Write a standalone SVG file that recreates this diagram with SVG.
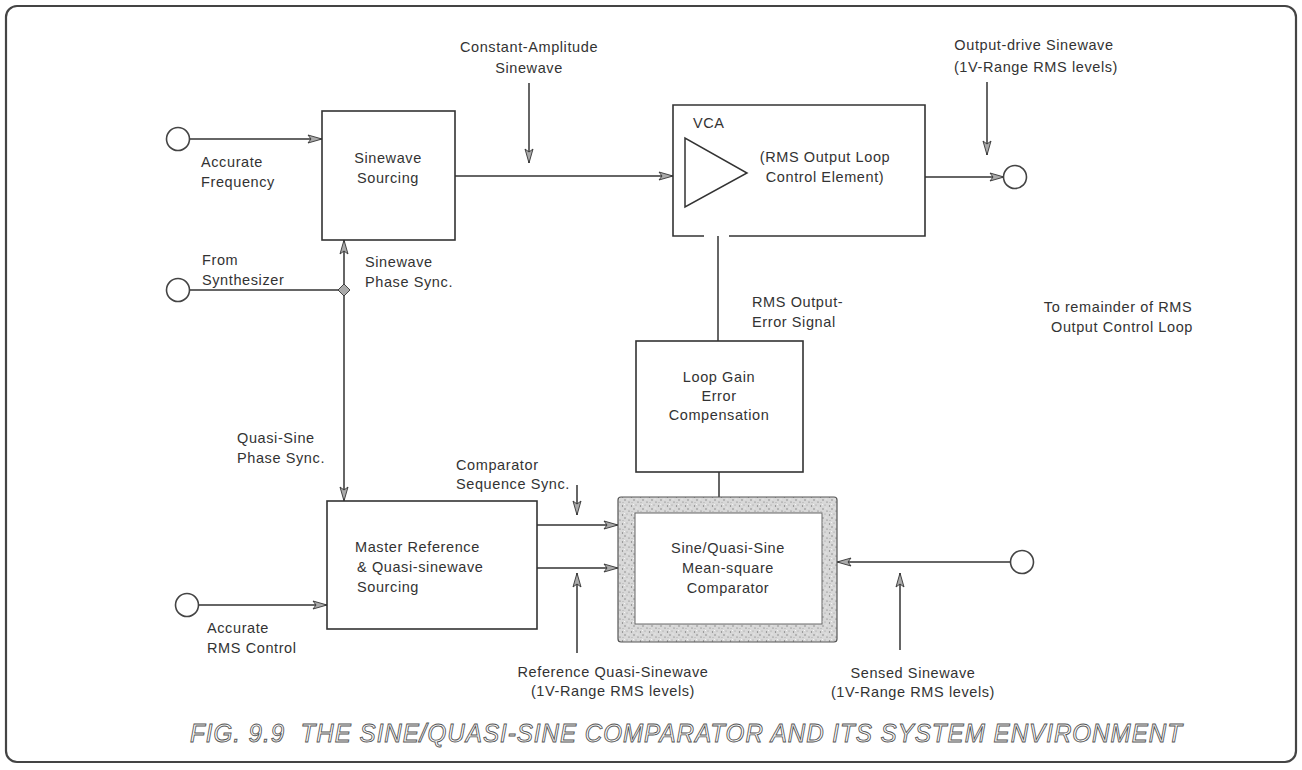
<svg xmlns="http://www.w3.org/2000/svg" width="1302" height="770" viewBox="0 0 1302 770">
<style>
.t{font-family:"Liberation Sans",Arial,sans-serif;font-size:14.5px;fill:#333;letter-spacing:0.6px}
.m{text-anchor:middle}
.box{fill:#fff;stroke:#333;stroke-width:1.6}
.ln{fill:none;stroke:#333;stroke-width:1.5}
.arr{marker-end:url(#ah)}
.term{fill:#fff;stroke:#444;stroke-width:1.6}
.cap{font-family:"Liberation Sans",Arial,sans-serif;font-size:25px;font-style:italic;fill:#fff;stroke:#555;stroke-width:0.9;letter-spacing:1px}
</style>
<defs>
<marker id="ah" markerUnits="userSpaceOnUse" markerWidth="16" markerHeight="10" refX="14" refY="4.5" orient="auto" overflow="visible">
<path d="M0,0.5 L14,4.5 L0,8.5 L3,4.5 Z" fill="#aaa" stroke="#333" stroke-width="0.9"/>
</marker>
<pattern id="speck" width="9" height="9" patternUnits="userSpaceOnUse">
<rect width="9" height="9" fill="#d8d8d8"/>
<circle cx="1.5" cy="2" r="0.7" fill="#777"/>
<circle cx="6" cy="1" r="0.6" fill="#999"/>
<circle cx="4" cy="5" r="0.8" fill="#888"/>
<circle cx="8" cy="7" r="0.6" fill="#666"/>
<circle cx="2" cy="7.5" r="0.6" fill="#aaa"/>
<circle cx="7" cy="4" r="0.6" fill="#f4f4f4"/>
<circle cx="3.5" cy="0.5" r="0.6" fill="#f4f4f4"/>
</pattern>
</defs>

<rect x="6" y="6" width="1290" height="756" rx="11" fill="none" stroke="#444" stroke-width="2.2"/>

<g id="connectors">
<path class="ln arr" d="M190,139 H322"/>
<path class="ln" d="M190,290 H344"/>
<path class="ln arr" d="M344,290 V240"/>
<path class="ln arr" d="M344,290 V501"/>
<path d="M344,284 L350,290 L344,296 L338,290 Z" fill="#aaa" stroke="#333" stroke-width="0.9"/>
<path class="ln arr" d="M455,176 H673"/>
<path class="ln arr" d="M529,83 V163"/>
<path class="ln arr" d="M925,177 H1004"/>
<path class="ln arr" d="M987,82 V155"/>
<path class="ln arr" d="M718,341 V190"/>
<path class="ln" d="M719,472 V497"/>
<path class="ln arr" d="M537,525 H618"/>
<path class="ln arr" d="M537,568 H618"/>
<path class="ln arr" d="M577,485 V515"/>
<path class="ln arr" d="M577,653 V573"/>
<path class="ln arr" d="M1011,562 H837"/>
<path class="ln arr" d="M900,650 V573"/>
<path class="ln arr" d="M198,605 H327"/>
</g>

<g id="in-freq"><circle class="term" cx="178" cy="139" r="11.5"/>
<text class="t" x="201" y="167">Accurate</text><text class="t" x="201" y="187">Frequency</text></g>
<g id="in-synth"><circle class="term" cx="178" cy="290" r="11.5"/>
<text class="t" x="202" y="265">From</text><text class="t" x="202" y="285">Synthesizer</text></g>
<g id="in-rms"><circle class="term" cx="187" cy="605" r="11.5"/>
<text class="t" x="207" y="633">Accurate</text><text class="t" x="207" y="653">RMS Control</text></g>
<g id="out"><circle class="term" cx="1015" cy="177" r="11.5"/>
<text class="t m" x="1034" y="50">Output-drive Sinewave</text><text class="t m" x="1036" y="72">(1V-Range RMS levels)</text></g>
<g id="in-sensed"><circle class="term" cx="1022" cy="562" r="11.5"/>
<text class="t m" x="913" y="678">Sensed Sinewave</text><text class="t m" x="913" y="697">(1V-Range RMS levels)</text></g>

<g id="sourcing"><rect class="box" x="322" y="111" width="133" height="129"/>
<text class="t m" x="388" y="163">Sinewave</text><text class="t m" x="388" y="183">Sourcing</text></g>

<g id="vca">
<path class="box" d="M704,236 H673 V105 H925 V236 H729"/>
<polygon points="685,138 685,207 747,173" fill="#fff" stroke="#333" stroke-width="1.5"/>
<text class="t" x="693" y="128">VCA</text>
<text class="t m" x="825" y="162">(RMS Output Loop</text><text class="t m" x="825" y="182">Control Element)</text>
</g>

<g id="loopgain"><rect class="box" x="636" y="341" width="167" height="131"/>
<text class="t m" x="719" y="382">Loop Gain</text><text class="t m" x="719" y="401">Error</text><text class="t m" x="719" y="420">Compensation</text></g>

<g id="master"><rect class="box" x="327" y="501" width="210" height="128"/>
<text class="t" x="355" y="552">Master Reference</text><text class="t" x="357" y="572">&amp; Quasi-sinewave</text><text class="t" x="357" y="592">Sourcing</text></g>

<g id="comparator">
<rect x="618" y="497" width="219" height="145" rx="3" fill="url(#speck)" stroke="#555" stroke-width="1.2"/>
<rect x="635" y="513" width="187" height="111" fill="#fff" stroke="#666" stroke-width="1"/>
<text class="t m" x="728" y="553">Sine/Quasi-Sine</text><text class="t m" x="728" y="573">Mean-square</text><text class="t m" x="728" y="593">Comparator</text>
</g>

<g id="labels">
<text class="t m" x="529" y="52">Constant-Amplitude</text><text class="t m" x="529" y="73">Sinewave</text>
<text class="t" x="365" y="267">Sinewave</text><text class="t" x="365" y="287">Phase Sync.</text>
<text class="t" x="237" y="443">Quasi-Sine</text><text class="t" x="237" y="463">Phase Sync.</text>
<text class="t" x="752" y="307">RMS Output-</text><text class="t" x="752" y="327">Error Signal</text>
<text class="t m" x="1118" y="312">To remainder of RMS</text><text class="t m" x="1122" y="332">Output Control Loop</text>
<text class="t" x="456" y="470">Comparator</text><text class="t" x="456" y="489">Sequence Sync.</text>
<text class="t m" x="613" y="677">Reference Quasi-Sinewave</text><text class="t m" x="613" y="696">(1V-Range RMS levels)</text>
</g>

<text class="cap" x="190" y="742" textLength="993" lengthAdjust="spacingAndGlyphs">FIG. 9.9&#160; THE SINE/QUASI-SINE COMPARATOR AND ITS SYSTEM ENVIRONMENT</text>
</svg>
